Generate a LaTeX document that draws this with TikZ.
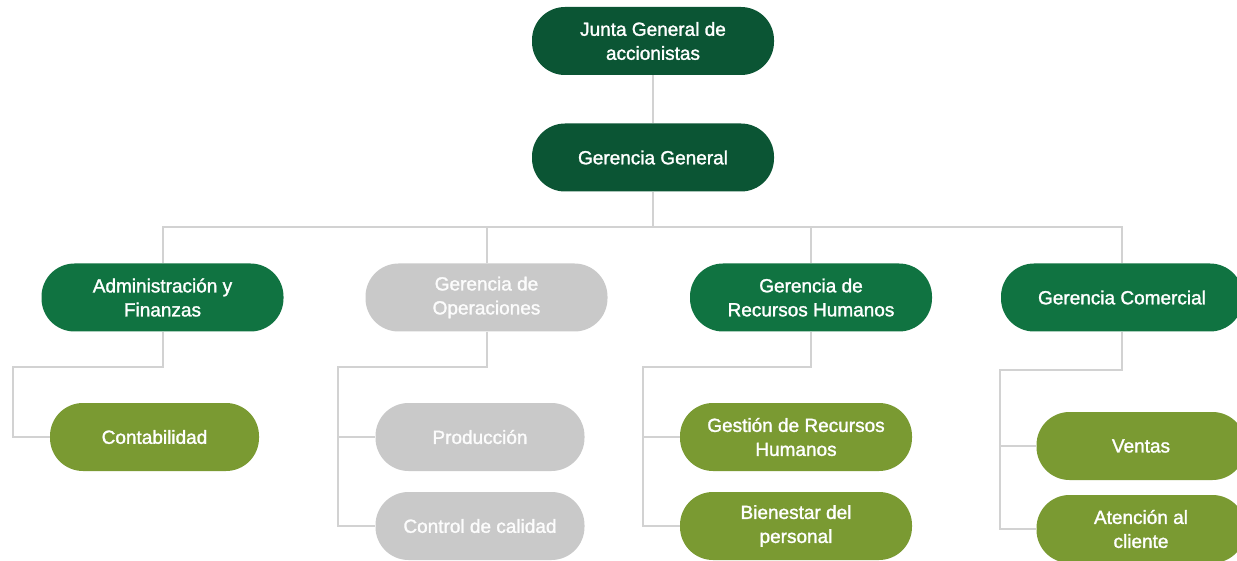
\documentclass[tikz,border=0pt]{standalone}
\usepackage{fontspec}
\setmainfont{Liberation Sans}
\newfontfamily\medfont{Liberation Sans}[FakeBold=1.5]
\usetikzlibrary{backgrounds}
\definecolor{dkgreen}{HTML}{0B5534}
\definecolor{mdgreen}{HTML}{107341}
\definecolor{olive}{HTML}{7A9A32}
\definecolor{lgray}{HTML}{C9C9C9}
\definecolor{linegray}{HTML}{D2D2D2}
\tikzset{
  pill/.style={rounded corners=33pt, minimum height=68pt, inner sep=0pt, align=center,
    text=white, font=\medfont\fontsize{19}{24}\selectfont},
  topbox/.style={pill, fill=dkgreen, minimum width=242pt},
  midbox/.style={pill, fill=mdgreen, minimum width=242pt},
  graybox/.style={pill, fill=lgray, text=white!95!lgray, minimum width=242pt},
  subbox/.style={pill, fill=olive, minimum width=209pt},
  subgray/.style={pill, fill=lgray, text=white!95!lgray, minimum width=209pt},
  subwide/.style={pill, fill=olive, minimum width=232pt},
  conn/.style={draw=linegray, line width=2pt}
}
\begin{document}
\begin{tikzpicture}[x=1pt,y=-1pt]
\clip (0,0) rectangle (1237,561);
% nodes
\node[topbox] (junta) at (653,41) {Junta General de\\accionistas};
\node[topbox] (gg) at (653,157.5) {Gerencia General};
\node[midbox] (adm) at (162.5,297.5) {Administración y\\Finanzas};
\node[graybox] (ops) at (486.5,297.5) {Gerencia de\\Operaciones};
\node[midbox] (rh) at (811,297.5) {Gerencia de\\Recursos Humanos};
\node[midbox] (com) at (1122,297.5) {Gerencia Comercial};
\node[subbox] (conta) at (154.5,437) {Contabilidad};
\node[subgray] (prod) at (480,437) {Producción};
\node[subgray] (ctrl) at (480,526) {Control de calidad};
\node[subwide] (gest) at (796,437) {Gestión de Recursos\\Humanos};
\node[subwide] (bien) at (796,526) {Bienestar del\\personal};
\node[subbox] (vent) at (1141,446) {Ventas};
\node[subbox] (aten) at (1141,529) {Atención al\\cliente};
% coordinates
\coordinate (bus) at (653,227);
\coordinate (ak) at (13,367);
\coordinate (ok) at (338,367);
\coordinate (rk) at (643,367);
\coordinate (ck) at (1000,370);
\begin{scope}[on background layer]
\draw[conn] (junta) -- (gg);
\draw[conn] (gg) -- (bus);
\draw[conn] (adm.north) |- (bus) -| (com.north);
\draw[conn] (ops.north) -- (ops.north |- bus);
\draw[conn] (rh.north) -- (rh.north |- bus);
\draw[conn] (adm.south) |- (ak) |- (conta.west);
\draw[conn] (ops.south) |- (ok) |- (ctrl.west);
\draw[conn] (ok |- prod.west) -- (prod.west);
\draw[conn] (rh.south) |- (rk) |- (bien.west);
\draw[conn] (rk |- gest.west) -- (gest.west);
\draw[conn] (com.south) |- (ck) |- (aten.west);
\draw[conn] (ck |- vent.west) -- (vent.west);
\end{scope}
\end{tikzpicture}
\end{document}
